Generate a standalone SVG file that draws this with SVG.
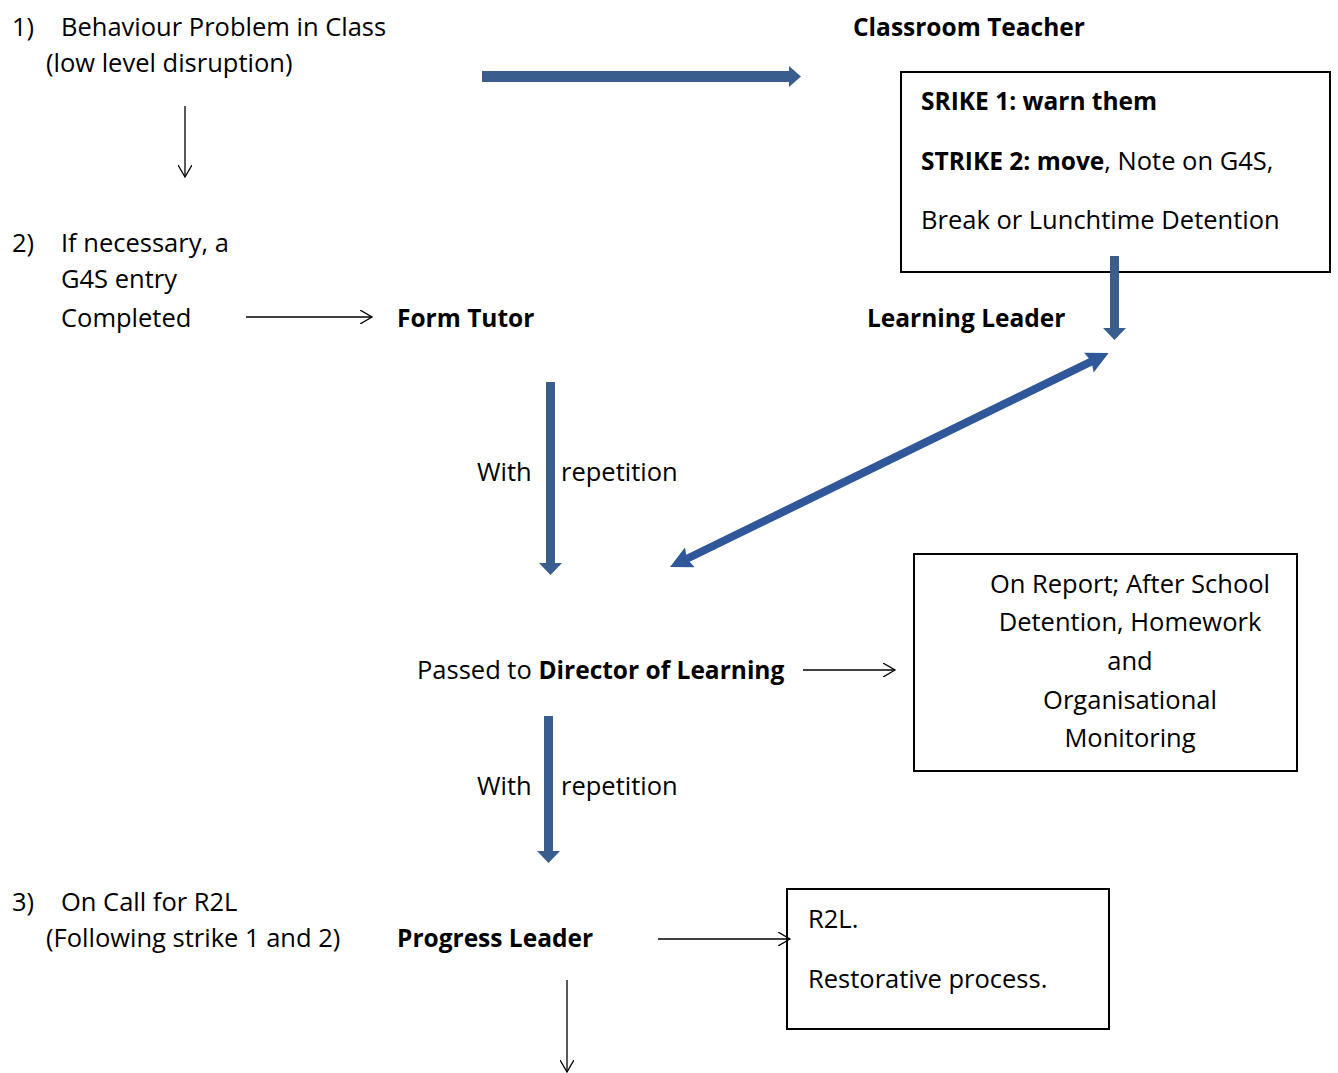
<svg xmlns="http://www.w3.org/2000/svg" width="1338" height="1073" viewBox="0 0 1338 1073">
<defs>
<style>
text{font-family:"Open Sans","Noto Sans","Liberation Sans",sans-serif;font-size:25.5px;fill:#000}
.b{font-weight:bold;font-size:24.5px}
.box{fill:#fff;stroke:#000;stroke-width:2}
.thin{stroke:#000;stroke-width:1.3;fill:none}
.blue{fill:#395d8d}
.blue2{fill:#2f579a}
</style>
<marker id="open" markerWidth="14" markerHeight="14" refX="12" refY="7" orient="auto" markerUnits="userSpaceOnUse">
<path d="M0,0 L12,7 L0,14" fill="none" stroke="#000" stroke-width="1.3"/>
</marker>
</defs>
<rect width="1338" height="1073" fill="#fff"/>

<g id="step1">
<text x="12" y="36">1)</text>
<text x="61" y="36">Behaviour Problem in Class</text>
<text x="46" y="72">(low level disruption)</text>
</g>

<g id="classroom-teacher">
<text x="853" y="36" class="b">Classroom Teacher</text>
</g>

<g id="strike-box">
<rect class="box" x="901" y="72" width="429" height="200"/>
<text x="921" y="110" class="b">SRIKE 1: warn them</text>
<text x="921" y="170"><tspan class="b">STRIKE 2: move</tspan>, Note on G4S,</text>
<text x="921" y="229">Break or Lunchtime Detention</text>
</g>

<g id="step2">
<text x="12" y="252">2)</text>
<text x="61" y="252">If necessary, a</text>
<text x="61" y="288">G4S entry</text>
<text x="61" y="327">Completed</text>
</g>

<g id="form-tutor"><text x="397" y="327" class="b">Form Tutor</text></g>
<g id="learning-leader"><text x="867" y="327" class="b">Learning Leader</text></g>

<g id="director">
<text x="417" y="679">Passed to <tspan class="b">Director of Learning</tspan></text>
</g>

<g id="report-box">
<rect class="box" x="914" y="554" width="383" height="217"/>
<text x="1130" y="593" text-anchor="middle">On Report; After School</text>
<text x="1130" y="631" text-anchor="middle">Detention, Homework</text>
<text x="1130" y="670" text-anchor="middle">and</text>
<text x="1130" y="709" text-anchor="middle">Organisational</text>
<text x="1130" y="747" text-anchor="middle">Monitoring</text>
</g>

<g id="step3">
<text x="12" y="911">3)</text>
<text x="61" y="911">On Call for R2L</text>
<text x="46" y="947">(Following strike 1 and 2)</text>
</g>

<g id="progress-leader"><text x="397" y="947" class="b">Progress Leader</text></g>

<g id="r2l-box">
<rect class="box" x="787" y="889" width="322" height="140"/>
<text x="808" y="928">R2L.</text>
<text x="808" y="988">Restorative process.</text>
</g>

<g id="labels">
<text x="477" y="481">With</text>
<text x="561" y="481">repetition</text>
<text x="477" y="795">With</text>
<text x="561" y="795">repetition</text>
</g>

<g id="connectors">
<line class="thin" x1="185" y1="106" x2="185" y2="177" marker-end="url(#open)"/>
<line class="thin" x1="246" y1="317" x2="372" y2="317" marker-end="url(#open)"/>
<line class="thin" x1="803" y1="670" x2="895" y2="670" marker-end="url(#open)"/>
<line class="thin" x1="658" y1="939" x2="790" y2="939" marker-end="url(#open)"/>
<line class="thin" x1="567" y1="980" x2="567" y2="1072" marker-end="url(#open)"/>
<path class="blue" d="M482,71 L789,71 L789,66 L801,76.5 L789,87 L789,82 L482,82 Z"/>
<path class="blue" d="M1110,256 L1119,256 L1119,328 L1126,328 L1114.5,340 L1103,328 L1110,328 Z"/>
<path class="blue" d="M546,382 L555,382 L555,563 L562,563 L550.5,575 L539,563 L546,563 Z"/>
<path class="blue" d="M544,716 L553,716 L553,851 L560,851 L548.5,863 L537,851 L544,851 Z"/>
<g transform="translate(670,567) rotate(-26)">
<path class="blue2" d="M0,0 L22,-11 L20,-4 L468,-4 L466,-11 L488,0 L466,11 L468,4 L20,4 L22,11 Z"/>
</g>
</g>
</svg>
